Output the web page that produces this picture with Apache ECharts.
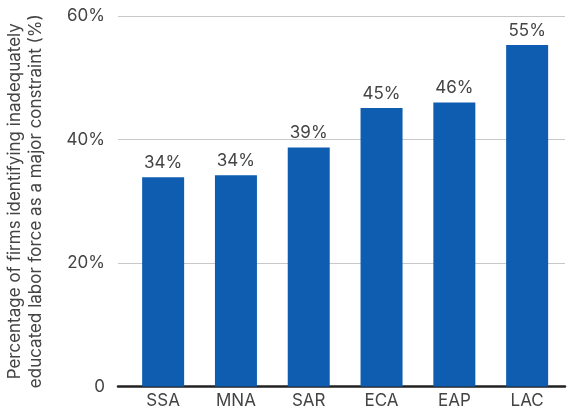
<!DOCTYPE html>
<html>
<head>
<meta charset="utf-8">
<script src="https://cdn.jsdelivr.net/npm/echarts@6/dist/echarts.min.js"></script>
<style>
  html, body { margin: 0; padding: 0; background: #fff; }
  #chart { width: 567px; height: 411px; }
</style>
</head>
<body>
<div id="chart"></div>
<script>
// regions and share of firms (%)
const regions = ['SSA', 'MNA', 'SAR', 'ECA', 'EAP', 'LAC'];
const shares = [33.9, 34.2, 38.7, 45.1, 46.0, 55.3];
const yTicks = [0, 20, 40, 60];

const chart = echarts.init(document.getElementById('chart'));
const font = 'Inter, Liberation Sans, Arial, sans-serif';

const option = {
  animation: false,
  textStyle: { fontFamily: font },
  grid: { left: 118, right: 2, top: 16, bottom: 24.5, outerBoundsMode: 'none', containLabel: false },
  xAxis: {
    type: 'value',
    min: -0.62,
    max: 5.52,
    splitLine: { show: false },
    axisTick: { show: false },
    axisLine: { show: true, onZero: false, lineStyle: { color: '#222', width: 2.5 } },
    axisLabel: {
      customValues: regions.map((r, i) => i),
      formatter: v => regions[Math.round(v)],
      color: '#444',
      fontSize: 17,
      margin: 6,
      fontFamily: font
    }
  },
  yAxis: {
    type: 'value',
    min: 0,
    max: 60,
    interval: 20,
    axisLine: { show: false },
    axisTick: { show: false },
    splitLine: { lineStyle: { color: '#c8c8c8', width: 1 } },
    axisLabel: {
      formatter: v => (v === 0 ? '0' : v + '%'),
      color: '#444',
      fontSize: 17,
      margin: 13,
      fontFamily: font
    },
    name: 'Percentage of firms identifying inadequately\neducated labor force as a major constraint (%)',
    nameLocation: 'middle',
    nameRotate: 90,
    nameGap: 72,
    nameTextStyle: { color: '#444', fontSize: 17, lineHeight: 21, fontFamily: font }
  },
  series: [{
    type: 'bar',
    barWidth: 42,
    itemStyle: { color: '#0f5db0' },
    label: {
      show: true,
      position: 'top',
      distance: 6,
      formatter: p => Math.round(p.value[1]) + '%',
      color: '#444',
      fontSize: 17,
      fontFamily: font
    },
    data: shares.map((v, i) => [i, v])
  }]
};
chart.setOption(option);
</script>
</body>
</html>
